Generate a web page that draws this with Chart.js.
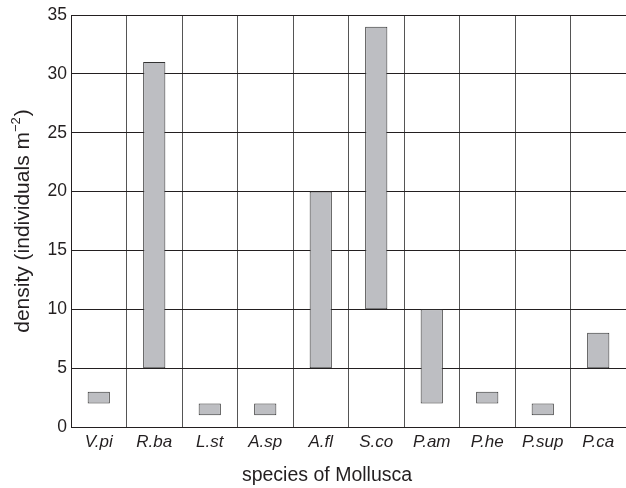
<!DOCTYPE html>
<html>
<head>
<meta charset="utf-8">
<script src="https://cdn.jsdelivr.net/npm/chart.js@4/dist/chart.umd.min.js"></script>
<style>
  html, body { margin: 0; padding: 0; background: #fff; }
  #wrap { width: 626px; height: 488px; }
</style>
</head>
<body>
<div id="wrap"><canvas id="c" width="626" height="488"></canvas></div>
<script>
// Mollusc species (abbreviated) and their density ranges, individuals per m²
const species = ['V.pi', 'R.ba', 'L.st', 'A.sp', 'A.fl', 'S.co', 'P.am', 'P.he', 'P.sup', 'P.ca'];
const densityMin = [2, 5, 1, 1, 5, 10, 2, 2, 1, 5];
const densityMax = [3, 31, 2, 2, 20, 34, 10, 3, 2, 8];
const yTicks = [0, 5, 10, 15, 20, 25, 30, 35];

const ranges = species.map((_, i) => [densityMin[i], densityMax[i]]);

const FONT = '"Liberation Sans", Arial, Helvetica, sans-serif';
const INK = '#231f20';

// Axis titles; the y title carries a superscript exponent
const axisTitles = {
  id: 'axisTitles',
  afterDraw(chart) {
    const ctx = chart.ctx;
    const area = chart.chartArea;
    ctx.save();
    ctx.fillStyle = INK;
    ctx.textBaseline = 'middle';

    ctx.font = '19.5px ' + FONT;
    ctx.textAlign = 'center';
    ctx.fillText('species of Mollusca', 327, 476);

    const main = 'density (individuals m';
    const sup = '\u22122';
    const tail = ')';
    const big = '21px ' + FONT;
    const small = '13px ' + FONT;
    ctx.font = big;
    const wMain = ctx.measureText(main).width;
    const wTail = ctx.measureText(tail).width;
    ctx.font = small;
    const wSup = ctx.measureText(sup).width + 1;
    const total = wMain + wSup + wTail;

    ctx.translate(23, (area.top + area.bottom) / 2);
    ctx.rotate(-Math.PI / 2);
    ctx.textAlign = 'left';
    let x = -total / 2;
    ctx.font = big;
    ctx.fillText(main, x, 0);
    x += wMain;
    ctx.font = small;
    ctx.fillText(sup, x, -7);
    x += wSup;
    ctx.font = big;
    ctx.fillText(tail, x, 0);
    ctx.restore();
  }
};

new Chart(document.getElementById('c'), {
  type: 'bar',
  data: {
    labels: species,
    datasets: [{
      data: ranges,
      backgroundColor: '#bdbec2',
      borderColor: '#333333',
      borderWidth: 1,
      borderSkipped: false,
      barPercentage: 0.4,
      categoryPercentage: 1.0
    }]
  },
  plugins: [axisTitles],
  options: {
    responsive: false,
    animation: false,
    layout: { padding: { top: 15, right: 0, left: 0, bottom: 0 } },
    plugins: {
      legend: { display: false },
      tooltip: { enabled: false }
    },
    scales: {
      x: {
        type: 'category',
        offset: true,
        grid: { offset: true, color: '#555', lineWidth: 1, drawTicks: false },
        border: { color: INK, width: 1 },
        ticks: {
          color: INK,
          padding: 5,
          maxRotation: 0,
          font: { family: FONT, size: 17, style: 'italic' }
        },
        afterFit(scale) { scale.height = 61; }
      },
      y: {
        min: 0,
        max: 35,
        afterBuildTicks(scale) { scale.ticks = yTicks.map(v => ({ value: v })); },
        grid: { color: INK, lineWidth: 1, drawTicks: false },
        border: { color: INK, width: 1 },
        ticks: {
          color: INK,
          padding: 4,
          font: { family: FONT, size: 17.5 }
        },
        afterFit(scale) { scale.width = 71; }
      }
    }
  }
});
</script>
</body>
</html>
